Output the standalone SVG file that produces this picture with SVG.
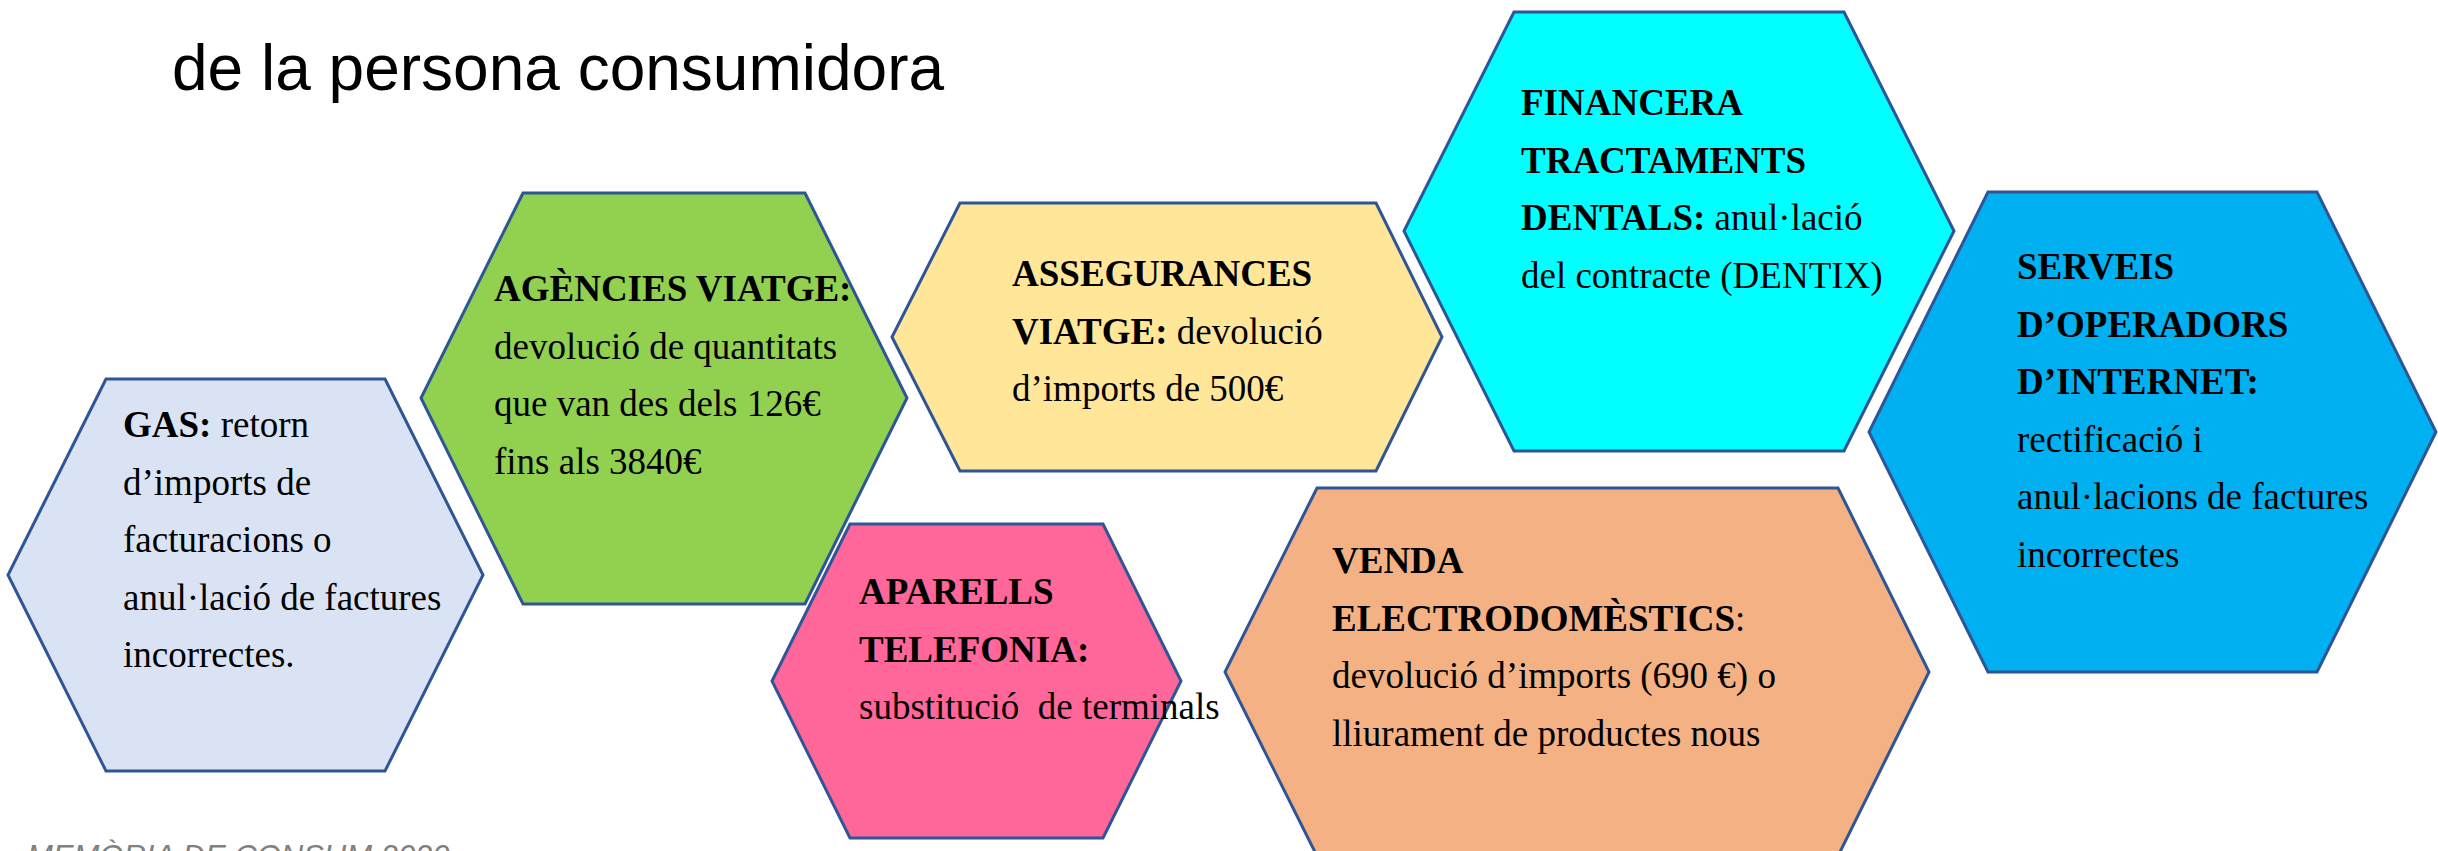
<svg xmlns="http://www.w3.org/2000/svg" width="2438" height="851" viewBox="0 0 2438 851">
<style>
.hex{stroke:#2F5597;stroke-width:3;stroke-linejoin:miter}
.t{font-family:"Liberation Serif","Times New Roman",serif;font-size:37px;fill:#000;white-space:pre}
.b{font-weight:bold}
.title{font-family:"Liberation Sans",Arial,sans-serif;font-size:64px;fill:#000}
.foot{font-family:"Liberation Sans",Arial,sans-serif;font-size:31px;font-style:italic;fill:#808080}
</style>
<rect width="2438" height="851" fill="#FFFFFF"/>
<text class="title" x="172" y="90">de la persona consumidora</text>
<g id="connectors"></g>
<g id="gas">
<polygon class="hex" fill="#DAE3F3" points="106,379 385,379 483,575 385,771 106,771 8,575"/>
<text class="t" x="123" y="437"><tspan class="b">GAS:</tspan> retorn</text>
<text class="t" x="123" y="494.5">d’imports de</text>
<text class="t" x="123" y="552">facturacions o</text>
<text class="t" x="123" y="609.5">anul·lació de factures</text>
<text class="t" x="123" y="667">incorrectes.</text>
</g>
<g id="agencies">
<polygon class="hex" fill="#92D050" points="523,193 805,193 907,398 805,604 523,604 421,398"/>
<text class="t b" x="494" y="301">AGÈNCIES VIATGE:</text>
<text class="t" x="494" y="358.5">devolució de quantitats</text>
<text class="t" x="494" y="416">que van des dels 126€</text>
<text class="t" x="494" y="473.5">fins als 3840€</text>
</g>
<g id="assegurances">
<polygon class="hex" fill="#FFE699" points="960,203 1376,203 1442,337 1376,471 960,471 892,337"/>
<text class="t b" x="1012" y="286">ASSEGURANCES</text>
<text class="t" x="1012" y="344"><tspan class="b">VIATGE:</tspan> devolució</text>
<text class="t" x="1012" y="401">d’imports de 500€</text>
</g>
<g id="financera">
<polygon class="hex" fill="#00FFFF" points="1514,12 1844,12 1954,231 1844,451 1514,451 1404,231"/>
<text class="t b" x="1521" y="115">FINANCERA</text>
<text class="t b" x="1521" y="172.5">TRACTAMENTS</text>
<text class="t" x="1521" y="230"><tspan class="b">DENTALS:</tspan> anul·lació</text>
<text class="t" x="1521" y="287.5">del contracte (DENTIX)</text>
</g>
<g id="serveis">
<polygon class="hex" fill="#00B0F0" points="1988,192 2317,192 2436,432 2317,672 1988,672 1869,432"/>
<text class="t b" x="2017" y="279">SERVEIS</text>
<text class="t b" x="2017" y="336.5">D’OPERADORS</text>
<text class="t b" x="2017" y="394">D’INTERNET:</text>
<text class="t" x="2017" y="451.5">rectificació i</text>
<text class="t" x="2017" y="509">anul·lacions de factures</text>
<text class="t" x="2017" y="566.5">incorrectes</text>
</g>
<g id="aparells">
<polygon class="hex" fill="#FF6699" points="850,524 1103,524 1181,681 1103,838 850,838 772,681"/>
<text class="t b" x="859" y="604">APARELLS</text>
<text class="t b" x="859" y="662">TELEFONIA:</text>
<text class="t" x="859" y="719" xml:space="preserve">substitució  de terminals</text>
</g>
<g id="venda">
<polygon class="hex" fill="#F4B183" points="1317,488 1838,488 1929,672 1838,856 1317,856 1225,672"/>
<text class="t b" x="1332" y="573">VENDA</text>
<text class="t" x="1332" y="630.5"><tspan class="b">ELECTRODOMÈSTICS</tspan>:</text>
<text class="t" x="1332" y="688">devolució d’imports (690 €) o</text>
<text class="t" x="1332" y="745.5">lliurament de productes nous</text>
</g>
<text class="foot" x="27" y="867">MEMÒRIA DE CONSUM 2020</text>
</svg>
